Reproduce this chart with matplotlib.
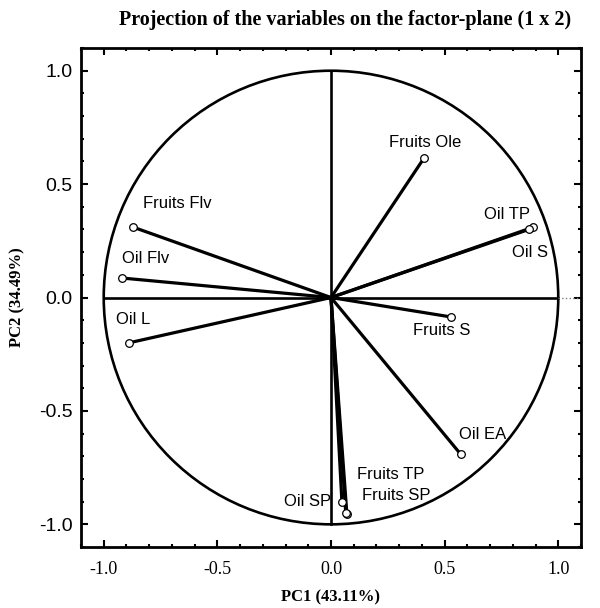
import matplotlib
matplotlib.use("Agg")
import matplotlib.pyplot as plt
from matplotlib.patches import Circle
from matplotlib.ticker import MultipleLocator

# loadings on PC1 / PC2
names = ["Fruits Ole", "Oil TP", "Oil S", "Fruits S", "Fruits Flv", "Oil Flv",
         "Oil L", "Oil EA", "Oil SP", "Fruits TP", "Fruits SP"]
pc1 = [0.41, 0.89, 0.87, 0.53, -0.87, -0.92, -0.89, 0.57, 0.048, 0.07, 0.065]
pc2 = [0.616, 0.31, 0.30, -0.086, 0.31, 0.086, -0.20, -0.69, -0.90, -0.955, -0.95]

# label offsets in pixels (dx right, dy up) from each point
lab_dx = [1, -26, 1, -10, 44, 24, 4, 22, -34, 44, 50]
lab_dy = [15, 13, -23, -13, 24, 20, 23, 20, 0, 40, 17]

fig = plt.figure(figsize=(6, 6.08), dpi=100)
ax = fig.add_axes([0.135, 0.1003, 0.8333, 0.8207])

ax.add_patch(Circle((0, 0), 1.0, fill=False, ec="black", lw=1.9))
ax.plot([-1, 1], [0, 0], color="black", lw=1.9)
ax.plot([1, 1.1], [0, 0], color="gray", lw=1.0, ls=":")
ax.plot([0, 0], [-1, 1], color="black", lw=1.9)

for x, y in zip(pc1, pc2):
    ax.plot([0, x], [0, y], color="black", lw=2.3, solid_capstyle="round")
ax.plot(pc1, pc2, "o", ms=5.5, mfc="white", mec="black", mew=0.9, ls="none")

for n, x, y, dx, dy in zip(names, pc1, pc2, lab_dx, lab_dy):
    ax.annotate(n, (x, y), xytext=(dx, dy), textcoords="offset pixels",
                ha="center", va="center", fontsize=12, family="Liberation Sans")

ax.set_xlim(-1.1, 1.1)
ax.set_ylim(-1.1, 1.1)
ax.xaxis.set_major_locator(MultipleLocator(0.5))
ax.yaxis.set_major_locator(MultipleLocator(0.5))
ax.xaxis.set_minor_locator(MultipleLocator(0.1))
ax.yaxis.set_minor_locator(MultipleLocator(0.1))
ax.tick_params(which="both", direction="in", top=True, right=True, width=1.5)
ax.tick_params(which="major", length=5)
ax.tick_params(which="minor", length=2.5)
ax.tick_params(axis="x", pad=10)
ax.tick_params(axis="y", pad=6)
for lab in ax.get_xticklabels():
    lab.set_family("Liberation Serif")
    lab.set_fontsize(13)
for lab in ax.get_yticklabels():
    lab.set_family("Liberation Sans")
    lab.set_fontsize(14)
ax.xaxis.set_major_formatter(matplotlib.ticker.FormatStrFormatter("%.1f"))
ax.yaxis.set_major_formatter(matplotlib.ticker.FormatStrFormatter("%.1f"))
for s in ax.spines.values():
    s.set_linewidth(2)

ax.set_xlabel("PC1 (43.11%)", family="Liberation Serif", fontweight="bold",
              fontsize=12, va="center")
ax.xaxis.set_label_coords(0.5, -0.1)
ax.set_ylabel("PC2 (34.49%)", family="Liberation Serif", fontweight="bold",
              fontsize=12, labelpad=10)
fig.text(0.575, 0.967, "Projection of the variables on the factor-plane (1 x 2)",
         ha="center", va="center", family="Liberation Serif", fontweight="bold",
         fontsize=14.5)

fig.savefig("out.png", dpi=100)
